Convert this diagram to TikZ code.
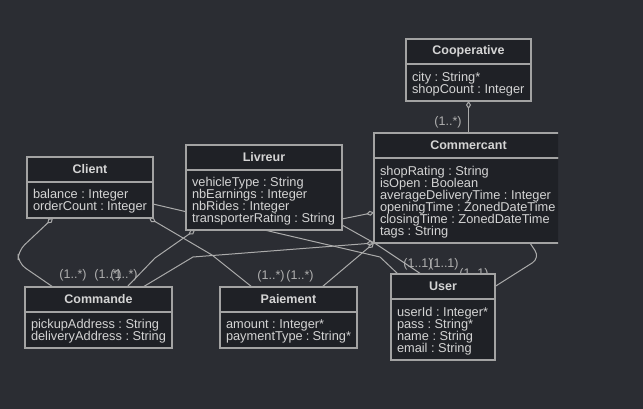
\documentclass[tikz,border=0pt]{standalone}
\usepackage{fontspec}
\setmainfont{Liberation Sans}
\usetikzlibrary{positioning,arrows.meta}
\definecolor{canvas}{HTML}{2B2D33}
\definecolor{boxfill}{HTML}{1F2126}
\definecolor{boxline}{HTML}{A3A3A3}
\definecolor{boxtext}{HTML}{D4D4D4}
\definecolor{linkline}{HTML}{ABABAB}
\definecolor{cardtext}{HTML}{B0B0B0}
\pgfdeclarelayer{bg}
\pgfdeclarelayer{links}
\pgfsetlayers{bg,links,main}

\begin{document}
\begin{tikzpicture}[x=1pt, y=-1pt,
        every node/.style={font=\fontsize{12.5}{12}\selectfont},
        classHead/.style={draw=boxline, fill=boxfill, text=boxtext, line width=1.2pt, outer sep=0pt, inner sep=0pt,
            minimum height=25pt, minimum width=#1, anchor=north west, font=\fontsize{12.5}{12}\selectfont\bfseries},
        classBody/.style={draw=boxline, fill=boxfill, text=boxtext, line width=1.2pt, outer sep=0pt,
            inner xsep=6pt, inner ysep=0pt, align=left, text width=#1, font=\fontsize{12.8}{12}\selectfont,
            execute at begin node={\spaceskip=0pt\xspaceskip=0pt\hyphenpenalty=10000\rule{0pt}{12pt}}},
        aggr/.style={draw=linkline, line width=1pt, {Diamond[open, length=8pt, width=5pt]}-},
        assoc/.style={draw=linkline, line width=1pt},
        card/.style={text=cardtext, inner sep=0pt}]
        \useasboundingbox (0,0) rectangle (643,409);
        \begin{pgfonlayer}{bg}
            \fill[canvas] (0,0) rectangle (643,409);
        \end{pgfonlayer}

        % Classes
        \node[classHead=125pt] (coop) at (406,39) {Cooperative};
        \node[classBody=113pt, minimum height=37pt, below=0pt of coop] (coopAttr) {city~:~String*\\ shopCount~:~Integer};

        \begin{scope}
            \clip (0,0) rectangle (558,409);
            \node[classHead=189pt] (com) at (374,133) {Commercant};
            \node[classBody=177pt, minimum height=85pt, below=0pt of com] (comAttr) {shopRating~:~String\\ isOpen~:~Boolean\\ averageDeliveryTime~:~Integer\\ openingTime~:~ZonedDateTime\\ closingTime~:~ZonedDateTime\\ tags~:~String};
        \end{scope}

        \node[classHead=126pt] (client) at (27,157) {Client};
        \node[classBody=114pt, minimum height=36pt, below=0pt of client] (clientAttr) {balance~:~Integer\\ orderCount~:~Integer};

        \node[classHead=156pt] (livreur) at (186,145) {Livreur};
        \node[classBody=144pt, minimum height=60pt, below=0pt of livreur] (livreurAttr) {vehicleType~:~String\\ nbEarnings~:~Integer\\ nbRides~:~Integer\\ transporterRating~:~String};

        \node[classHead=147pt] (commande) at (25,287) {Commande};
        \node[classBody=135pt, minimum height=36pt, below=0pt of commande] (commandeAttr) {pickupAddress~:~String\\ deliveryAddress~:~String};

        \node[classHead=137pt] (paiement) at (220,287) {Paiement};
        \node[classBody=125pt, minimum height=36pt, below=0pt of paiement] (paiementAttr) {amount~:~Integer*\\ paymentType~:~String*};

        \node[classHead=104pt] (user) at (391,274) {User};
        \node[classBody=92pt, minimum height=61pt, below=0pt of user] (userAttr) {userId~:~Integer*\\ pass~:~String*\\ name~:~String\\ email~:~String};

        \begin{pgfonlayer}{links}
            % Associations
            \draw[aggr] (coopAttr.south) -- (coopAttr.south |- com.north);
            \draw[aggr, rounded corners=9pt] ([xshift=26pt]clientAttr.south west) -- (18,251) -- (18,263) -- ([xshift=28pt]commande.north west);
            \draw[aggr] ([xshift=-4pt]clientAttr.south east) -- (212,255) -- ([xshift=32pt]paiement.north west);
            \draw[assoc] ([yshift=-4pt]clientAttr.east) -- (380,257) -- ([xshift=7pt]user.north west);
            \draw[aggr] ([xshift=9pt]livreurAttr.south west) -- (155,258) -- ([xshift=102pt]commande.north west);
            \draw[aggr] (comAttr.south west) -- (193,257) -- ([xshift=118pt]commande.north west);
            \draw[aggr] (comAttr.south west) -- ([xshift=102pt]paiement.north west);
            \draw[aggr] ([yshift=-12pt]comAttr.west) -- ([yshift=-19pt]livreurAttr.east);
            \draw[assoc] ([yshift=-25pt]livreurAttr.east) -- (376,244) -- ([xshift=30pt]user.north west);
            \draw[assoc, rounded corners=9pt] ([xshift=156pt]comAttr.south west) -- (540,258) -- (user.east);

            % Multiplicities
            \node[card] (cardCoop) at (448,122) {(1..*)};
            \node[card] (cardClientCmd) at (73,275) {(1..*)};
            \node[card] (cardLivCmd) at (108,275) {(1..*)};
            \node[card] (cardComCmd) at (124,275) {(1..*)};
            \node[card] (cardClientPay) at (271,276) {(1..*)};
            \node[card] (cardComPay) at (300,276) {(1..*)};
            \node[card] (cardClientUser) at (418,264) {(1..1)};
            \node[card] (cardLivUser) at (444,264) {(1..1)};
            \node[card] (cardComUser) at (474,274) {(1..1)};
        \end{pgfonlayer}
    \end{tikzpicture}
\end{document}
